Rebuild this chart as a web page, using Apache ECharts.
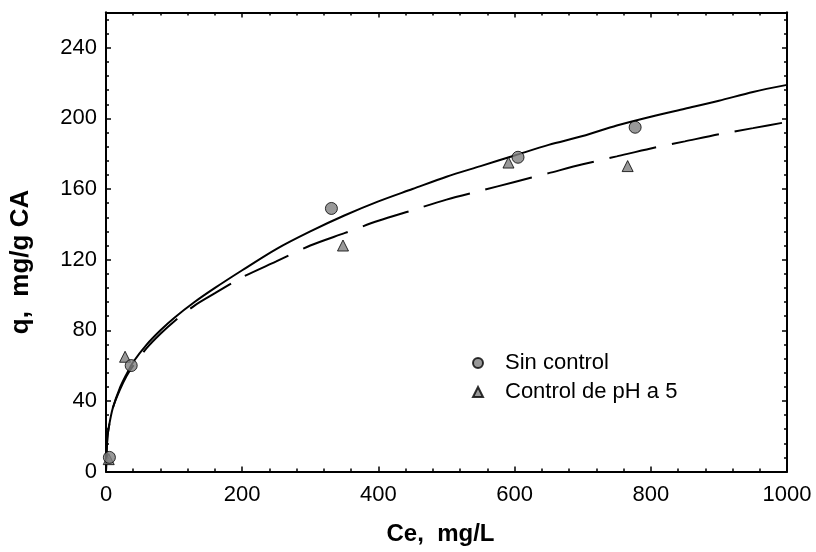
<!DOCTYPE html>
<html>
<head>
<meta charset="utf-8">
<script src="https://cdn.jsdelivr.net/npm/echarts@6/dist/echarts.min.js"></script>
<style>
  html, body { margin: 0; padding: 0; background: #fff; }
  #chart { width: 816px; height: 552px; }
</style>
</head>
<body>
<div id="chart"></div>
<script>
// ---- data ----
const sinCe = [5, 37, 331, 605, 777];
const sinQ  = [8, 60, 149, 178, 195];

const ctlCe = [4, 28, 348, 591, 766];
const ctlQ  = [7, 65, 128, 175, 173];

// fitted curve (solid, "Sin control")
const fitSolidCe = [0, 2, 5, 10, 20, 30, 40, 60, 80, 100, 130, 160, 200, 250, 300, 350, 400, 450, 500, 550, 600, 650, 700, 750, 800, 850, 900, 950, 1000];
const fitSolidQ  = [0, 19, 27, 36, 47, 55, 62, 72, 80, 87, 96, 104, 114, 126, 136, 145, 153, 160, 167, 173, 179, 185, 190, 196, 201, 205.5, 210, 215, 219];

// fitted curve (dashed, "Control de pH a 5")
const fitDashCe = [0, 2, 5, 10, 20, 30, 40, 60, 80, 100, 130, 160, 200, 250, 300, 350, 400, 450, 500, 550, 600, 650, 700, 750, 800, 850, 900, 950, 1000];
const fitDashQ  = [0, 19, 27, 36, 46, 54, 60, 70, 78, 85, 94, 101, 110, 119, 128, 135, 142, 148, 154, 159, 164, 169, 174, 178.5, 183, 187, 191, 194.5, 198];

const xTicks = [0, 200, 400, 600, 800, 1000];
const yTicks = [0, 40, 80, 120, 160, 200, 240];

const seriesNames = ['Sin control', 'Control de pH a 5'];
const xTitle = 'Ce,  mg/L';
const yTitle = 'q,  mg/g CA';

function pairs(xs, ys) { return xs.map((x, i) => [x, ys[i]]); }

const FONT = 'Arial, "Liberation Sans", sans-serif';
const black = '#000';

const chart = echarts.init(document.getElementById('chart'), null, { renderer: 'canvas' });

function xAxisBase(pos, show) {
  return {
    type: 'value', position: pos, min: 0, max: 1000, interval: 200,
    axisLine: { show: true, onZero: false, lineStyle: { color: black, width: 2 } },
    axisTick: { show: true, inside: true, length: 5, lineStyle: { color: black, width: 1.5 } },
    minorTick: { show: true, splitNumber: 5, length: 3, lineStyle: { color: black, width: 1.5 } },
    splitLine: { show: false },
    axisLabel: {
      show: show, margin: 12, fontSize: 22, color: black, fontFamily: FONT,
      formatter: v => (xTicks.indexOf(v) >= 0 ? String(v) : '')
    }
  };
}
function yAxisBase(pos, interval, tickLen, show) {
  return {
    type: 'value', position: pos, min: 0, max: 260, interval: interval,
    axisLine: { show: true, onZero: false, lineStyle: { color: black, width: 2 } },
    axisTick: { show: true, inside: true, length: tickLen, lineStyle: { color: black, width: 1.5 } },
    splitLine: { show: false },
    axisLabel: {
      show: show, margin: 9, fontSize: 22, color: black, fontFamily: FONT,
      formatter: v => (yTicks.indexOf(v) >= 0 ? String(v) : '')
    }
  };
}

const xMain = xAxisBase('bottom', true);
xMain.name = xTitle;
xMain.nameLocation = 'middle';
xMain.nameGap = 51;
xMain.nameTextStyle = { fontSize: 24, fontWeight: 'bold', color: black, fontFamily: FONT, padding: [0, 12, 0, 0] };

const yMain = yAxisBase('left', 40, 5, true);
yMain.name = yTitle;
yMain.nameLocation = 'middle';
yMain.nameGap = 72;
yMain.nameTextStyle = { fontSize: 26, fontWeight: 'bold', color: black, fontFamily: FONT, padding: [0, 40, 0, 0] };

const option = {
  backgroundColor: '#fff',
  animation: false,
  grid: { left: 106, right: 29, top: 12.5, bottom: 80.5 },
  xAxis: [xMain, xAxisBase('top', false)],
  yAxis: [
    yMain,
    yAxisBase('left', 8, 3, false),
    yAxisBase('right', 40, 5, false),
    yAxisBase('right', 8, 3, false)
  ],
  legend: {
    orient: 'vertical',
    left: 467,
    top: 347,
    itemWidth: 10,
    itemHeight: 10,
    itemGap: 7,
    symbolKeepAspect: true,
    data: seriesNames,
    textStyle: { fontSize: 22, color: black, fontFamily: FONT, padding: [0, 0, 0, 17] }
  },
  series: [
    {
      name: 'fitSolid', type: 'line', xAxisIndex: 0, yAxisIndex: 0,
      data: pairs(fitSolidCe, fitSolidQ), showSymbol: false, symbol: 'none',
      smooth: 0.3,
      lineStyle: { color: black, width: 2 }, z: 2, silent: true
    },
    {
      name: 'fitDash', type: 'line', xAxisIndex: 0, yAxisIndex: 0,
      data: pairs(fitDashCe, fitDashQ), showSymbol: false, symbol: 'none',
      smooth: 0.3,
      lineStyle: { color: black, width: 2, type: [48, 16] }, z: 2, silent: true
    },
    {
      name: seriesNames[1], type: 'scatter', xAxisIndex: 0, yAxisIndex: 0,
      data: pairs(ctlCe, ctlQ), symbol: 'triangle', symbolSize: 11,
      itemStyle: { color: '#808080', borderColor: black, borderWidth: 1 }, z: 3
    },
    {
      name: seriesNames[0], type: 'scatter', xAxisIndex: 0, yAxisIndex: 0,
      data: pairs(sinCe, sinQ), symbol: 'circle', symbolSize: 12,
      itemStyle: { color: '#808080', borderColor: black, borderWidth: 1 }, z: 4
    }
  ]
};
chart.setOption(option);
</script>
</body>
</html>
